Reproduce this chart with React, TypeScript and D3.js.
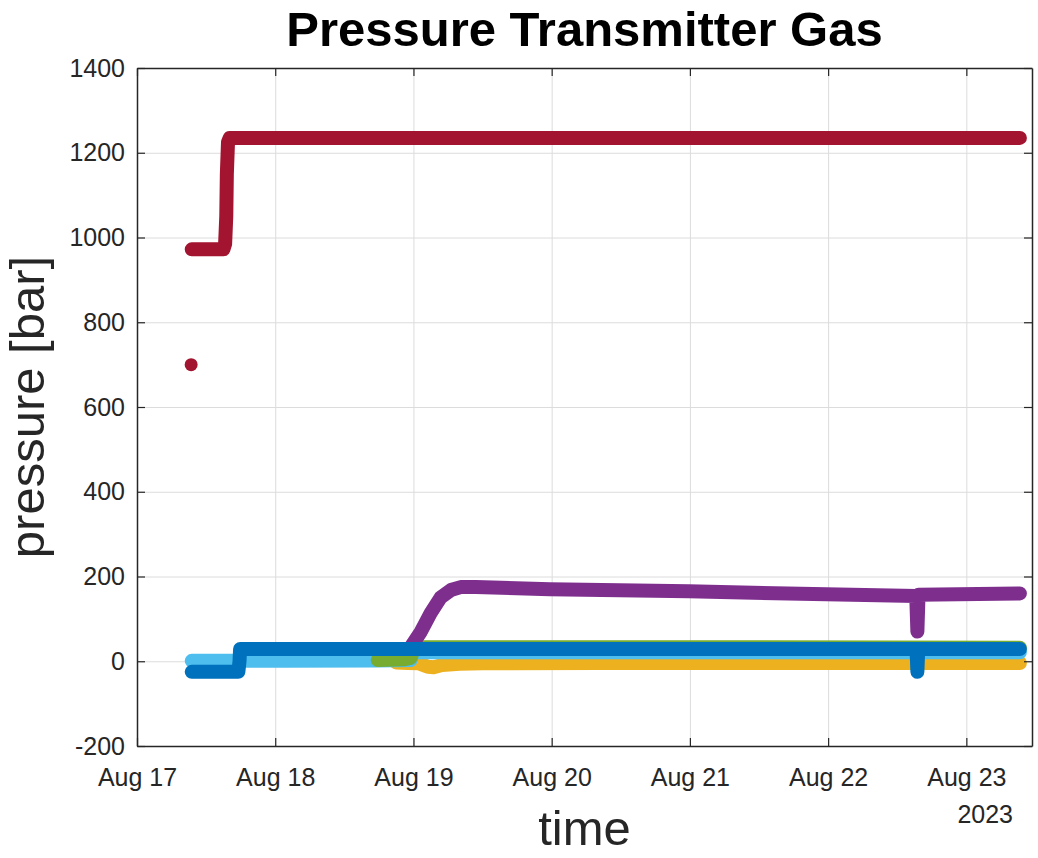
import React, { useEffect, useRef } from 'react';
import * as d3 from 'd3';

const chartTitle = 'Pressure Transmitter Gas';
const xAxisLabel = 'time';
const yAxisLabel = 'pressure [bar]';
const yearLabel = '2023';

// time is hours since Aug 17 2023 00:00
const startDate = new Date(2023, 7, 17, 0, 0);
const endHour = 155.4;
const dayTickHours = [0, 24, 48, 72, 96, 120, 144];
const dayTickLabels = ['Aug 17', 'Aug 18', 'Aug 19', 'Aug 20', 'Aug 21', 'Aug 22', 'Aug 23'];
const pressureTicks = [-200, 0, 200, 400, 600, 800, 1000, 1200, 1400];

type Pt = [number, number];

const lightBlueSeries: Pt[] = [[9.5, 1], [25, 1], [41.5, 2], [47.5, 3], [48, 21], [100, 21], [153.3, 21]];
const greenSeries: Pt[] = [[41.8, 3], [46.5, 5], [47.5, 8], [48.2, 33], [100, 33], [153.3, 32]];
const yellowSeries: Pt[] = [
  [45, -3], [47, -4], [49, -5], [50.5, -13], [51.5, -14], [53, -9], [56, -6], [60, -5], [80, -4], [153.3, -4],
];
const purpleSeries: Pt[] = [
  [47.6, 35], [49.3, 70], [51.0, 114], [52.7, 150], [54.5, 168], [56.2, 175], [58.8, 175], [71.7, 170],
  [95.8, 165], [119.7, 158], [135.3, 154], [135.5, 70], [135.7, 157], [153.3, 160],
];
const blueSeries: Pt[] = [
  [9.5, -25], [17.6, -25], [17.8, 0], [17.9, 29], [60, 29], [135.35, 29], [135.5, -25], [135.65, 29], [153.3, 29],
];
const redSeries: Pt[] = [
  [9.5, 972], [15.0, 972], [15.3, 985], [15.5, 1050], [15.6, 1150], [15.8, 1225], [16.1, 1235], [153.3, 1235],
];
const redSinglePoints: Pt[] = [[9.4, 700]];

const seriesList = [
  { data: yellowSeries, color: '#EDB120' },
  { data: lightBlueSeries, color: '#4DBEEE' },
  { data: greenSeries, color: '#77AC30' },
  { data: purpleSeries, color: '#7E2F8E' },
  { data: blueSeries, color: '#0072BD' },
  { data: redSeries, color: '#A2142F' },
];

const FONT = '"Liberation Sans", Arial, Helvetica, sans-serif';

const App = () => {
  const svgRef = useRef<SVGSVGElement>(null);

  useEffect(() => {
    const width = 1038, height = 858;
    const margin = { top: 68, right: 6, bottom: 112, left: 137 };
    const chartWidth = width - margin.left - margin.right;
    const chartHeight = height - margin.top - margin.bottom;

    const root = d3.select(svgRef.current);
    root.selectAll('*').remove();

    root.append('rect').attr('width', width).attr('height', height).attr('fill', '#fff');

    const toDate = (h: number) => new Date(startDate.getTime() + h * 3600 * 1000);

    const x = d3.scaleTime().domain([toDate(0), toDate(endHour)]).range([0, chartWidth]);
    const y = d3.scaleLinear().domain([-200, 1400]).range([chartHeight, 0]);

    const svg = root.append('g').attr('transform', `translate(${margin.left},${margin.top})`);

    const tickDates = dayTickHours.map(toDate);

    // grid
    const gx = svg.append('g').attr('transform', `translate(0,${chartHeight})`)
      .call(d3.axisBottom(x).tickValues(tickDates).tickSize(-chartHeight).tickFormat(() => ''));
    const gy = svg.append('g')
      .call(d3.axisLeft(y).tickValues(pressureTicks).tickSize(-chartWidth).tickFormat(() => ''));
    [gx, gy].forEach(g => {
      g.select('.domain').remove();
      g.selectAll('.tick line').attr('stroke', '#dcdcdc').attr('stroke-width', 1);
    });

    // series
    const line = d3.line<Pt>()
      .x(d => x(toDate(d[0])))
      .y(d => y(d[1]));

    seriesList.forEach(s => {
      svg.append('path')
        .datum(s.data)
        .attr('fill', 'none')
        .attr('stroke', s.color)
        .attr('stroke-width', 14)
        .attr('stroke-linecap', 'round')
        .attr('stroke-linejoin', 'round')
        .attr('d', line);
    });

    svg.selectAll('.single')
      .data(redSinglePoints)
      .enter().append('circle')
      .attr('cx', d => x(toDate(d[0])))
      .attr('cy', d => y(d[1]))
      .attr('r', 6.5)
      .attr('fill', '#A2142F');

    // axes
    const axisColor = '#262626';
    const xAxis = svg.append('g').attr('transform', `translate(0,${chartHeight})`)
      .call(d3.axisBottom(x).tickValues(tickDates)
        .tickFormat((_, i) => dayTickLabels[i])
        .tickSizeInner(-8).tickSizeOuter(0).tickPadding(22));
    const yAxis = svg.append('g')
      .call(d3.axisLeft(y).tickValues(pressureTicks).tickFormat(d => String(d))
        .tickSizeInner(-8).tickSizeOuter(0).tickPadding(12));
    const topAxis = svg.append('g')
      .call(d3.axisTop(x).tickValues(tickDates).tickFormat(() => '').tickSizeInner(-8).tickSizeOuter(0));
    const rightAxis = svg.append('g').attr('transform', `translate(${chartWidth},0)`)
      .call(d3.axisRight(y).tickValues(pressureTicks).tickFormat(() => '').tickSizeInner(-8).tickSizeOuter(0));

    [xAxis, yAxis, topAxis, rightAxis].forEach(g => {
      g.select('.domain').attr('stroke', axisColor).attr('stroke-width', 1.5);
      g.selectAll('.tick line').attr('stroke', axisColor).attr('stroke-width', 1.2);
      g.selectAll('text')
        .attr('fill', axisColor)
        .style('font-family', FONT)
        .style('font-size', '25px');
    });

    svg.append('text')
      .attr('x', chartWidth - 19)
      .attr('y', chartHeight + 77)
      .attr('text-anchor', 'end')
      .attr('fill', axisColor)
      .style('font-family', FONT)
      .style('font-size', '25px')
      .text(yearLabel);

    // labels
    svg.append('text')
      .attr('x', chartWidth / 2)
      .attr('y', chartHeight + 99)
      .attr('text-anchor', 'middle')
      .attr('fill', axisColor)
      .style('font-family', FONT)
      .style('font-size', '49px')
      .text(xAxisLabel);

    svg.append('text')
      .attr('transform', `translate(${44 - margin.left},${chartHeight / 2}) rotate(-90)`)
      .attr('text-anchor', 'middle')
      .attr('fill', axisColor)
      .style('font-family', FONT)
      .style('font-size', '49px')
      .text(yAxisLabel);

    svg.append('text')
      .attr('x', chartWidth / 2)
      .attr('y', 46 - margin.top)
      .attr('text-anchor', 'middle')
      .attr('fill', '#000')
      .style('font-family', FONT)
      .style('font-weight', 'bold')
      .style('font-size', '49px')
      .text(chartTitle);
  }, []);

  return (
    <svg ref={svgRef} width={1038} height={858}
      style={{ position: 'absolute', left: 0, top: 0, display: 'block' }} />
  );
};

export default App;
